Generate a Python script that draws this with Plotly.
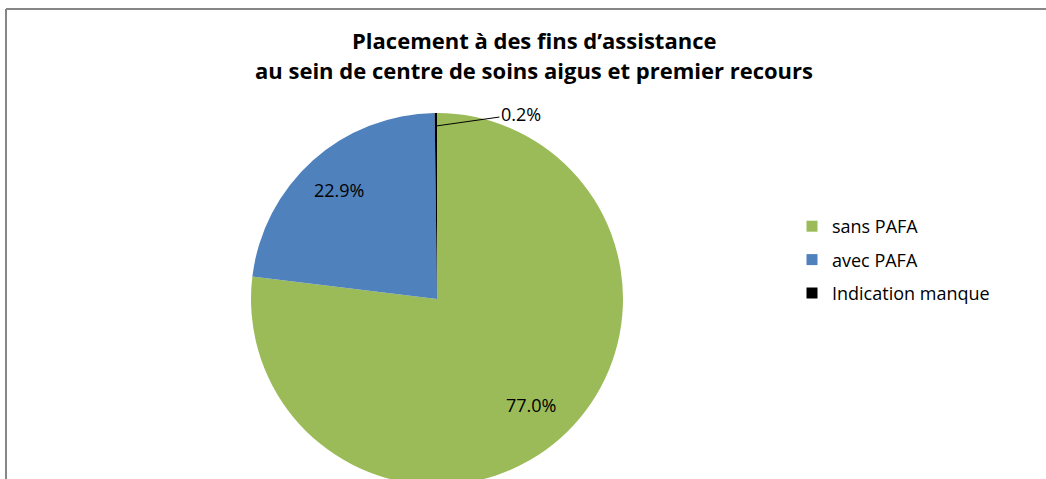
import math
import plotly.graph_objects as go

labels = ["sans PAFA", "avec PAFA", "Indication manque"]
values = [77.0, 22.9, 0.2]
colors = ["#9BBB59", "#4F81BD", "#000000"]
label_pos = ["inside", "inside", "outside"]
label_radius = [0.76, 0.79, 0.93]
title_lines = ["Placement à des fins d’assistance", "au sein de centre de soins aigus et premier recours"]

W, H = 1046, 500          # page is photographed at 479 px high; the pie bottom is clipped as in the original
FONT = "Open Sans"

# pie geometry in pixels
CX, CY, R = 437, 299, 186


def px(x):
    return x / W


def py(y):
    return 1 - y / H


fig = go.Figure()
fig.add_trace(go.Pie(
    labels=labels,
    values=values,
    sort=False,
    direction="clockwise",
    rotation=0,
    marker=dict(colors=colors, line=dict(width=0)),
    textinfo="none",
    domain=dict(x=[px(CX - R), px(CX + R)], y=[py(CY + R), py(CY - R)]),
    showlegend=False,
    hoverinfo="label+percent",
))

# legend entries (one group per label so the rows are spaced as in the original)
for lab, col in zip(labels, colors):
    fig.add_trace(go.Scatter(
        x=[None], y=[None], mode="markers", name=lab, legendgroup=lab,
        marker=dict(symbol="square", size=11, color=col),
        showlegend=True, hoverinfo="skip",
    ))

# data labels placed at the slice mid-angles computed from the values
annotations = []
total = sum(values)
cum = 0.0
for v, pos, rf in zip(values, label_pos, label_radius):
    mid = (cum + v / 2) / total * 2 * math.pi
    cum += v
    lx = CX + math.sin(mid) * R * rf
    ly = CY - math.cos(mid) * R * rf
    txt = f"{v:.1f}%"
    if pos == "inside":
        annotations.append(dict(
            x=px(lx), y=py(ly), xref="paper", yref="paper", text=txt,
            showarrow=False, xanchor="center", yanchor="middle",
            font=dict(family=FONT, size=18, color="#000000"),
        ))
    else:
        annotations.append(dict(
            x=px(lx), y=py(ly), xref="paper", yref="paper", text=txt,
            showarrow=True, arrowhead=0, arrowwidth=1, arrowcolor="#000000",
            ax=85, ay=-12, xanchor="center", yanchor="middle",
            font=dict(family=FONT, size=18, color="#000000"),
        ))

# title lines
for i, line in enumerate(title_lines):
    annotations.append(dict(
        x=0.5 + 11 / W, y=py(40 + 30 * i), xref="paper", yref="paper",
        text="<b>" + line + "</b>", showarrow=False,
        xanchor="center", yanchor="middle",
        font=dict(family=FONT, size=22, color="#000000"),
    ))

fig.update_layout(
    width=W,
    height=H,
    margin=dict(l=0, r=0, t=0, b=0),
    paper_bgcolor="white",
    plot_bgcolor="white",
    font=dict(family=FONT, size=18, color="#000000"),
    xaxis=dict(visible=False),
    yaxis=dict(visible=False),
    legend=dict(
        x=px(792), y=py(208), xanchor="left", yanchor="top",
        font=dict(family=FONT, size=18, color="#000000"),
        tracegroupgap=7, itemwidth=30, bgcolor="rgba(0,0,0,0)",
    ),
    annotations=annotations,
    shapes=[
        dict(type="line", xref="paper", yref="paper",
             x0=px(6), x1=1.0, y0=py(9), y1=py(9),
             line=dict(color="#868686", width=2)),
        dict(type="line", xref="paper", yref="paper",
             x0=px(6), x1=px(6), y0=py(9), y1=0.0,
             line=dict(color="#868686", width=2)),
    ],
)

fig.write_html(
    "out.html",
    config={"displayModeBar": False},
    post_script="document.body.style.margin='0';document.body.style.overflow='hidden';",
)
